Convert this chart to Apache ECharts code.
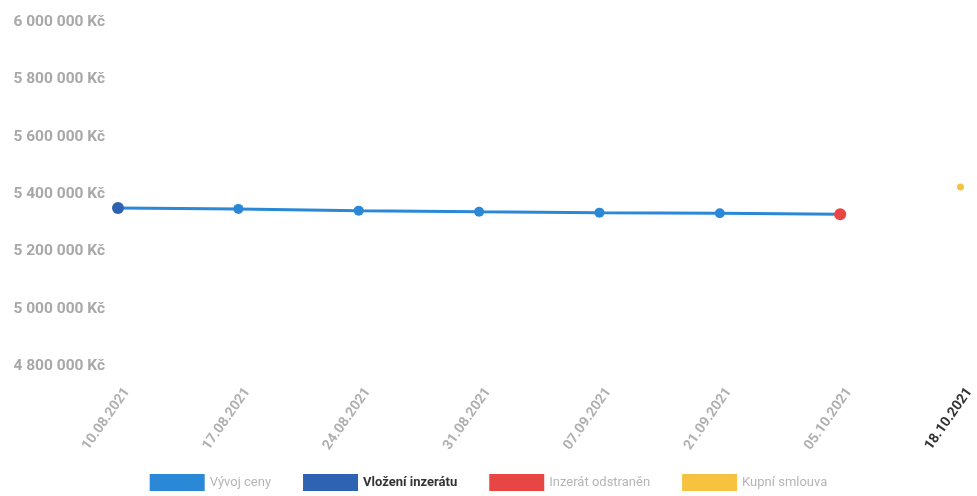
<!DOCTYPE html>
<html><head><meta charset="utf-8">
<script src="https://cdn.jsdelivr.net/npm/echarts@6/dist/echarts.min.js"></script>
<style>html,body{margin:0;padding:0;background:#fff}#c{width:977px;height:496px}</style>
</head><body><div id="c"></div>
<script>
const categories = ['10.08.2021','17.08.2021','24.08.2021','31.08.2021','07.09.2021','21.09.2021','05.10.2021','18.10.2021'];
const priceValues = [5351000, 5348000, 5342000, 5338000, 5335000, 5333000, 5329000, null];
const listedValues = [5351000, null, null, null, null, null, null, null];
const removedValues = [null, null, null, null, null, null, 5329000, null];
const contractValues = [null, null, null, null, null, null, null, 5424000];
const yTicks = {min: 4800000, max: 6000000, interval: 200000};
const seriesNames = ['Vývoj ceny','Vložení inzerátu','Inzerát odstraněn','Kupní smlouva'];

const fmt = v => String(v).replace(/\B(?=(\d{3})+(?!\d))/g, ' ') + ' Kč';
const chart = echarts.init(document.getElementById('c'));
chart.setOption({
  animation: false,
  textStyle: {fontFamily: 'Roboto, "Liberation Sans", sans-serif'},
  grid: {left: 118, right: 9, top: 22, bottom: 130, containLabel: false},
  xAxis: {
    type: 'category', data: categories, boundaryGap: false,
    axisLine: {show: false}, axisTick: {show: false}, splitLine: {show: false},
    axisLabel: {
      rotate: 55, margin: 17, interval: 0, fontSize: 14, fontWeight: 'bold', color: '#b0b0b0',
      padding: [22, 0, 0, 0],
      formatter: (v, i) => i === categories.length - 1 ? '{d|' + v + '}' : v,
      rich: {d: {color: '#333', fontWeight: 'bold', fontSize: 14}}
    }
  },
  yAxis: {
    type: 'value', min: yTicks.min, max: yTicks.max, interval: yTicks.interval,
    axisLine: {show: false}, axisTick: {show: false}, splitLine: {show: false},
    axisLabel: {formatter: fmt, margin: 13, fontSize: 15.5, fontWeight: 'bold', color: '#a8a8a8'}
  },
  legend: {
    bottom: 0, left: 'center', icon: 'rect', itemWidth: 55, itemHeight: 17, itemGap: 32,
    data: seriesNames,
    textStyle: {fontSize: 13, color: '#b5b5b5', rich: {b: {fontWeight: 'bold', color: '#333', fontSize: 13}}},
    formatter: n => n === 'Vložení inzerátu' ? '{b|' + n + '}' : n
  },
  series: [
    {name: seriesNames[0], type: 'line', data: priceValues, color: '#2a88d6',
      symbol: 'circle', symbolSize: 10, lineStyle: {width: 3}, z: 2},
    {name: seriesNames[1], type: 'line', data: listedValues, color: '#2d63b0',
      symbol: 'circle', symbolSize: 12, z: 3},
    {name: seriesNames[2], type: 'line', data: removedValues, color: '#e84545',
      symbol: 'circle', symbolSize: 12, z: 3},
    {name: seriesNames[3], type: 'line', data: contractValues, color: '#f6c240',
      symbol: 'circle', symbolSize: 7, z: 3}
  ]
});
</script></body></html>
